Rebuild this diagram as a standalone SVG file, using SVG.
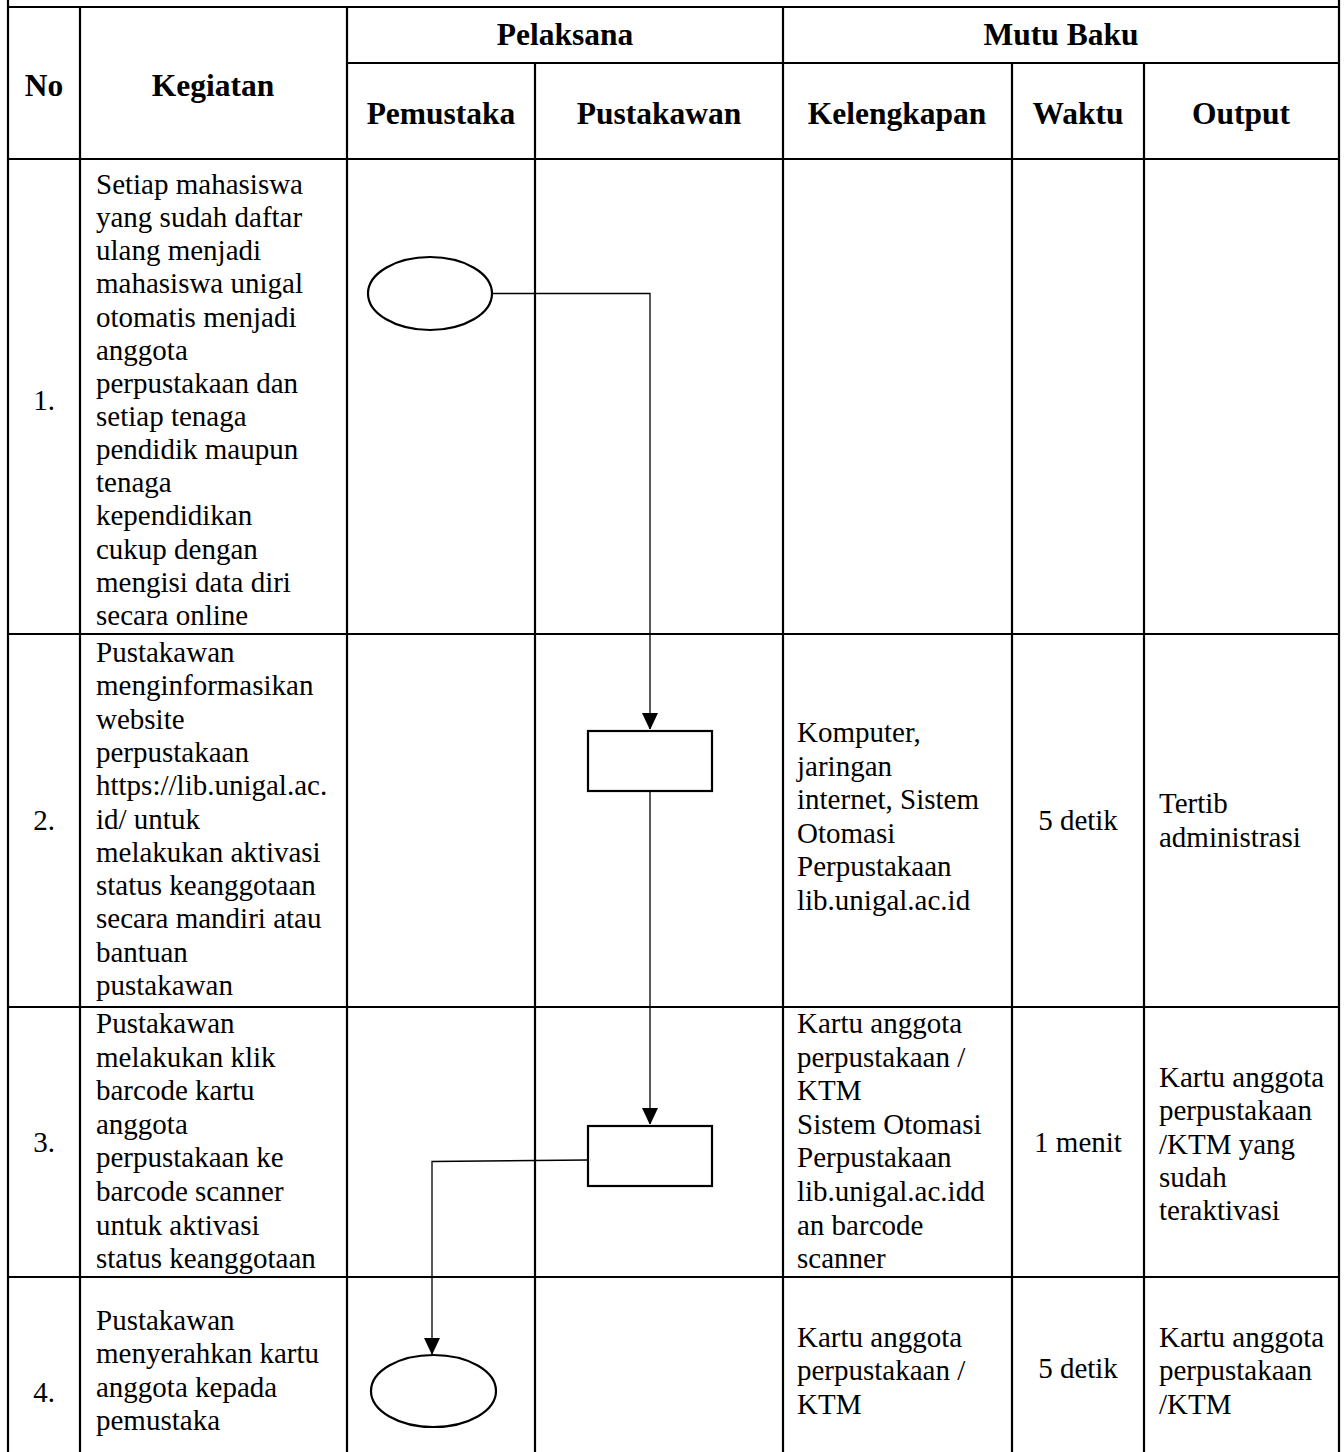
<svg xmlns="http://www.w3.org/2000/svg" width="1344" height="1452" viewBox="0 0 1344 1452">
<defs>
<style>
.grid line{stroke:#000;stroke-width:2.2;}
.h{font-family:"Liberation Serif","Times New Roman",serif;font-weight:bold;font-size:31.5px;fill:#000;text-anchor:middle;}
.t{font-family:"Liberation Serif","Times New Roman",serif;font-size:29px;fill:#000;}
.c{text-anchor:middle;}
.shape{fill:#fff;stroke:#000;stroke-width:2.2;}
.conn{fill:none;stroke:#000;stroke-width:1.3;}
</style>
<marker id="arr" viewBox="0 0 16 18" refX="16" refY="8" markerWidth="16" markerHeight="18" markerUnits="userSpaceOnUse" orient="auto">
<path d="M0,0 L17,8 L0,16 Z" fill="#000"/>
</marker>
</defs>
<rect width="1344" height="1452" fill="#fff"/>
<g class="grid" id="table">
<line x1="8" y1="0" x2="8" y2="1452"/>
<line x1="1339" y1="0" x2="1339" y2="1452"/>
<line x1="80" y1="7" x2="80" y2="1452"/>
<line x1="347" y1="7" x2="347" y2="1452"/>
<line x1="535" y1="63" x2="535" y2="1452"/>
<line x1="783" y1="7" x2="783" y2="1452"/>
<line x1="1012" y1="63" x2="1012" y2="1452"/>
<line x1="1144" y1="63" x2="1144" y2="1452"/>
<line x1="8" y1="7" x2="1339" y2="7"/>
<line x1="347" y1="63" x2="1339" y2="63"/>
<line x1="8" y1="159" x2="1339" y2="159"/>
<line x1="8" y1="634" x2="1339" y2="634"/>
<line x1="8" y1="1007" x2="1339" y2="1007"/>
<line x1="8" y1="1277" x2="1339" y2="1277"/>
</g>
<g id="header">
<text class="h" x="565" y="45">Pelaksana</text>
<text class="h" x="1061" y="45">Mutu Baku</text>
<text class="h" x="44" y="96">No</text>
<text class="h" x="213" y="96">Kegiatan</text>
<text class="h" x="441" y="124">Pemustaka</text>
<text class="h" x="659" y="124">Pustakawan</text>
<text class="h" x="897" y="124">Kelengkapan</text>
<text class="h" x="1078" y="124">Waktu</text>
<text class="h" x="1241" y="124">Output</text>
</g>
<g id="row1">
<text class="t c" x="44" y="410">1.</text>
<text class="t">
<tspan x="96" y="194">Setiap mahasiswa</tspan>
<tspan x="96" y="227">yang sudah daftar</tspan>
<tspan x="96" y="260">ulang menjadi</tspan>
<tspan x="96" y="293">mahasiswa unigal</tspan>
<tspan x="96" y="327">otomatis menjadi</tspan>
<tspan x="96" y="360">anggota</tspan>
<tspan x="96" y="393">perpustakaan dan</tspan>
<tspan x="96" y="426">setiap tenaga</tspan>
<tspan x="96" y="459">pendidik maupun</tspan>
<tspan x="96" y="492">tenaga</tspan>
<tspan x="96" y="525">kependidikan</tspan>
<tspan x="96" y="559">cukup dengan</tspan>
<tspan x="96" y="592">mengisi data diri</tspan>
<tspan x="96" y="625">secara online</tspan>
</text>
</g>
<g id="row2">
<text class="t c" x="44" y="830">2.</text>
<text class="t">
<tspan x="96" y="662">Pustakawan</tspan>
<tspan x="96" y="695">menginformasikan</tspan>
<tspan x="96" y="729">website</tspan>
<tspan x="96" y="762">perpustakaan</tspan>
<tspan x="96" y="795">https://lib.unigal.ac.</tspan>
<tspan x="96" y="829">id/ untuk</tspan>
<tspan x="96" y="862">melakukan aktivasi</tspan>
<tspan x="96" y="895">status keanggotaan</tspan>
<tspan x="96" y="928">secara mandiri atau</tspan>
<tspan x="96" y="962">bantuan</tspan>
<tspan x="96" y="995">pustakawan</tspan>
</text>
<text class="t">
<tspan x="797" y="742">Komputer,</tspan>
<tspan x="797" y="776">jaringan</tspan>
<tspan x="797" y="809">internet, Sistem</tspan>
<tspan x="797" y="843">Otomasi</tspan>
<tspan x="797" y="876">Perpustakaan</tspan>
<tspan x="797" y="910">lib.unigal.ac.id</tspan>
</text>
<text class="t c" x="1078" y="830">5 detik</text>
<text class="t">
<tspan x="1159" y="813">Tertib</tspan>
<tspan x="1159" y="847">administrasi</tspan>
</text>
</g>
<g id="row3">
<text class="t c" x="44" y="1152">3.</text>
<text class="t">
<tspan x="96" y="1033">Pustakawan</tspan>
<tspan x="96" y="1067">melakukan klik</tspan>
<tspan x="96" y="1100">barcode kartu</tspan>
<tspan x="96" y="1134">anggota</tspan>
<tspan x="96" y="1167">perpustakaan ke</tspan>
<tspan x="96" y="1201">barcode scanner</tspan>
<tspan x="96" y="1235">untuk aktivasi</tspan>
<tspan x="96" y="1268">status keanggotaan</tspan>
</text>
<text class="t">
<tspan x="797" y="1033">Kartu anggota</tspan>
<tspan x="797" y="1067">perpustakaan /</tspan>
<tspan x="797" y="1100">KTM</tspan>
<tspan x="797" y="1134">Sistem Otomasi</tspan>
<tspan x="797" y="1167">Perpustakaan</tspan>
<tspan x="797" y="1201">lib.unigal.ac.idd</tspan>
<tspan x="797" y="1235">an barcode</tspan>
<tspan x="797" y="1268">scanner</tspan>
</text>
<text class="t c" x="1078" y="1152">1 menit</text>
<text class="t">
<tspan x="1159" y="1087">Kartu anggota</tspan>
<tspan x="1159" y="1120">perpustakaan</tspan>
<tspan x="1159" y="1154">/KTM yang</tspan>
<tspan x="1159" y="1187">sudah</tspan>
<tspan x="1159" y="1220">teraktivasi</tspan>
</text>
</g>
<g id="row4">
<text class="t c" x="44" y="1402">4.</text>
<text class="t">
<tspan x="96" y="1330">Pustakawan</tspan>
<tspan x="96" y="1363">menyerahkan kartu</tspan>
<tspan x="96" y="1397">anggota kepada</tspan>
<tspan x="96" y="1430">pemustaka</tspan>
</text>
<text class="t">
<tspan x="797" y="1347">Kartu anggota</tspan>
<tspan x="797" y="1380">perpustakaan /</tspan>
<tspan x="797" y="1414">KTM</tspan>
</text>
<text class="t c" x="1078" y="1378">5 detik</text>
<text class="t">
<tspan x="1159" y="1347">Kartu anggota</tspan>
<tspan x="1159" y="1380">perpustakaan</tspan>
<tspan x="1159" y="1414">/KTM</tspan>
</text>
</g>
<g id="connectors">
<path class="conn" d="M492,293.5 H650 V729" marker-end="url(#arr)"/>
<path class="conn" d="M650,791 V1124" marker-end="url(#arr)"/>
<path class="conn" d="M588,1160 L432,1161.5 V1354" marker-end="url(#arr)"/>
</g>
<g id="start">
<ellipse class="shape" cx="430" cy="293.5" rx="62" ry="36.5"/>
</g>
<g id="step2">
<rect class="shape" x="588" y="731" width="124" height="60"/>
</g>
<g id="step3">
<rect class="shape" x="588" y="1126" width="124" height="60"/>
</g>
<g id="end">
<ellipse class="shape" cx="433.5" cy="1391" rx="62.5" ry="36"/>
</g>
</svg>
